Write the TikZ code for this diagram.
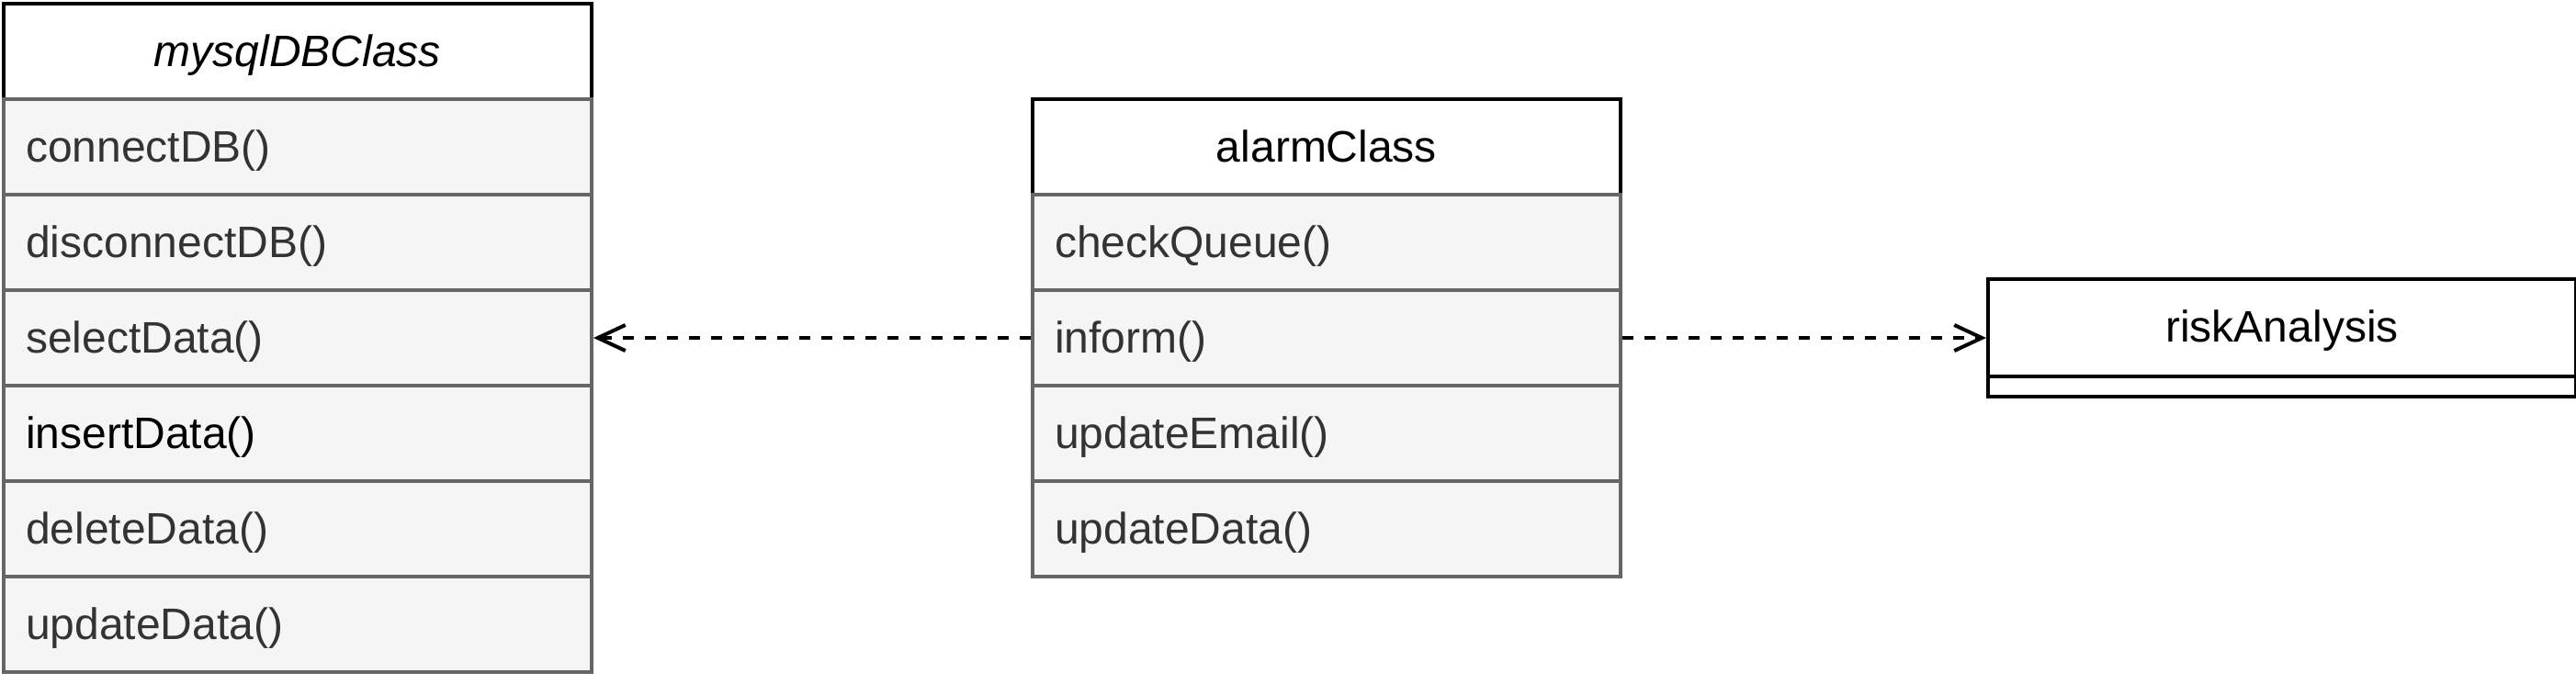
\documentclass[tikz,border=0pt]{standalone}
\usepackage{fontspec}
\setmainfont{Liberation Sans}
\usetikzlibrary{arrows.meta}
\definecolor{rowfill}{HTML}{F5F5F5}
\definecolor{rowline}{HTML}{666666}
\definecolor{rowtext}{HTML}{333333}
\tikzset{
  umlfont/.style={font=\fontsize{12}{14.4}\selectfont},
  classhead/.style={draw=black, fill=white, line width=1pt, minimum width=160pt,
    minimum height=26pt, inner sep=0pt, anchor=north west, text height=8pt,
    text depth=0pt, umlfont},
  classrow/.style={draw=rowline, fill=rowfill, text=rowtext, line width=1pt,
    text width=148pt, inner xsep=6pt, inner ysep=0pt, align=left,
    minimum height=26pt, anchor=north west, text height=8pt, text depth=0pt, umlfont},
  riskbox/.style={draw=black, fill=white, line width=1pt, minimum width=160pt,
    minimum height=32pt, inner sep=0pt, anchor=north west},
  dep/.style={line width=1pt, dash pattern=on 3pt off 3pt,
    -{Straight Barb[length=7.5pt,width=7pt]}}
}
\begin{document}
\begin{tikzpicture}
\useasboundingbox (0,0) rectangle (701pt,-186pt);
% mysqlDBClass
\node[classhead] (myhead) at (0.5pt,-0.5pt) {\itshape mysqlDBClass};
\node[classrow] (mycon) at (0.5pt,-26.5pt) {connectDB()};
\node[classrow] (mydis) at (0.5pt,-52.5pt) {disconnectDB()};
\node[classrow] (mysel) at (0.5pt,-78.5pt) {selectData()};
\node[classrow, text=black] (myins) at (0.5pt,-104.5pt) {insertData()};
\node[classrow] (mydel) at (0.5pt,-130.5pt) {deleteData()};
\node[classrow] (myupd) at (0.5pt,-156.5pt) {updateData()};
% alarmClass
\node[classhead] (alhead) at (280.5pt,-26.5pt) {alarmClass};
\node[classrow] (alchk) at (280.5pt,-52.5pt) {checkQueue()};
\node[classrow] (alinf) at (280.5pt,-78.5pt) {inform()};
\node[classrow] (alema) at (280.5pt,-104.5pt) {updateEmail()};
\node[classrow] (alupd) at (280.5pt,-130.5pt) {updateData()};
% riskAnalysis
\node[riskbox] (risk) at (540.5pt,-75.5pt) {};
\node[classhead, draw=none, fill=none] (risktitle) at (540.5pt,-75.5pt) {riskAnalysis};
\draw[line width=1pt] (risktitle.south west) -- (risktitle.south east);
% dependencies
\draw[dep] (alinf.west) -- (mysel.east);
\draw[dep] (alinf.east) -- (risk.west);
\end{tikzpicture}
\end{document}
